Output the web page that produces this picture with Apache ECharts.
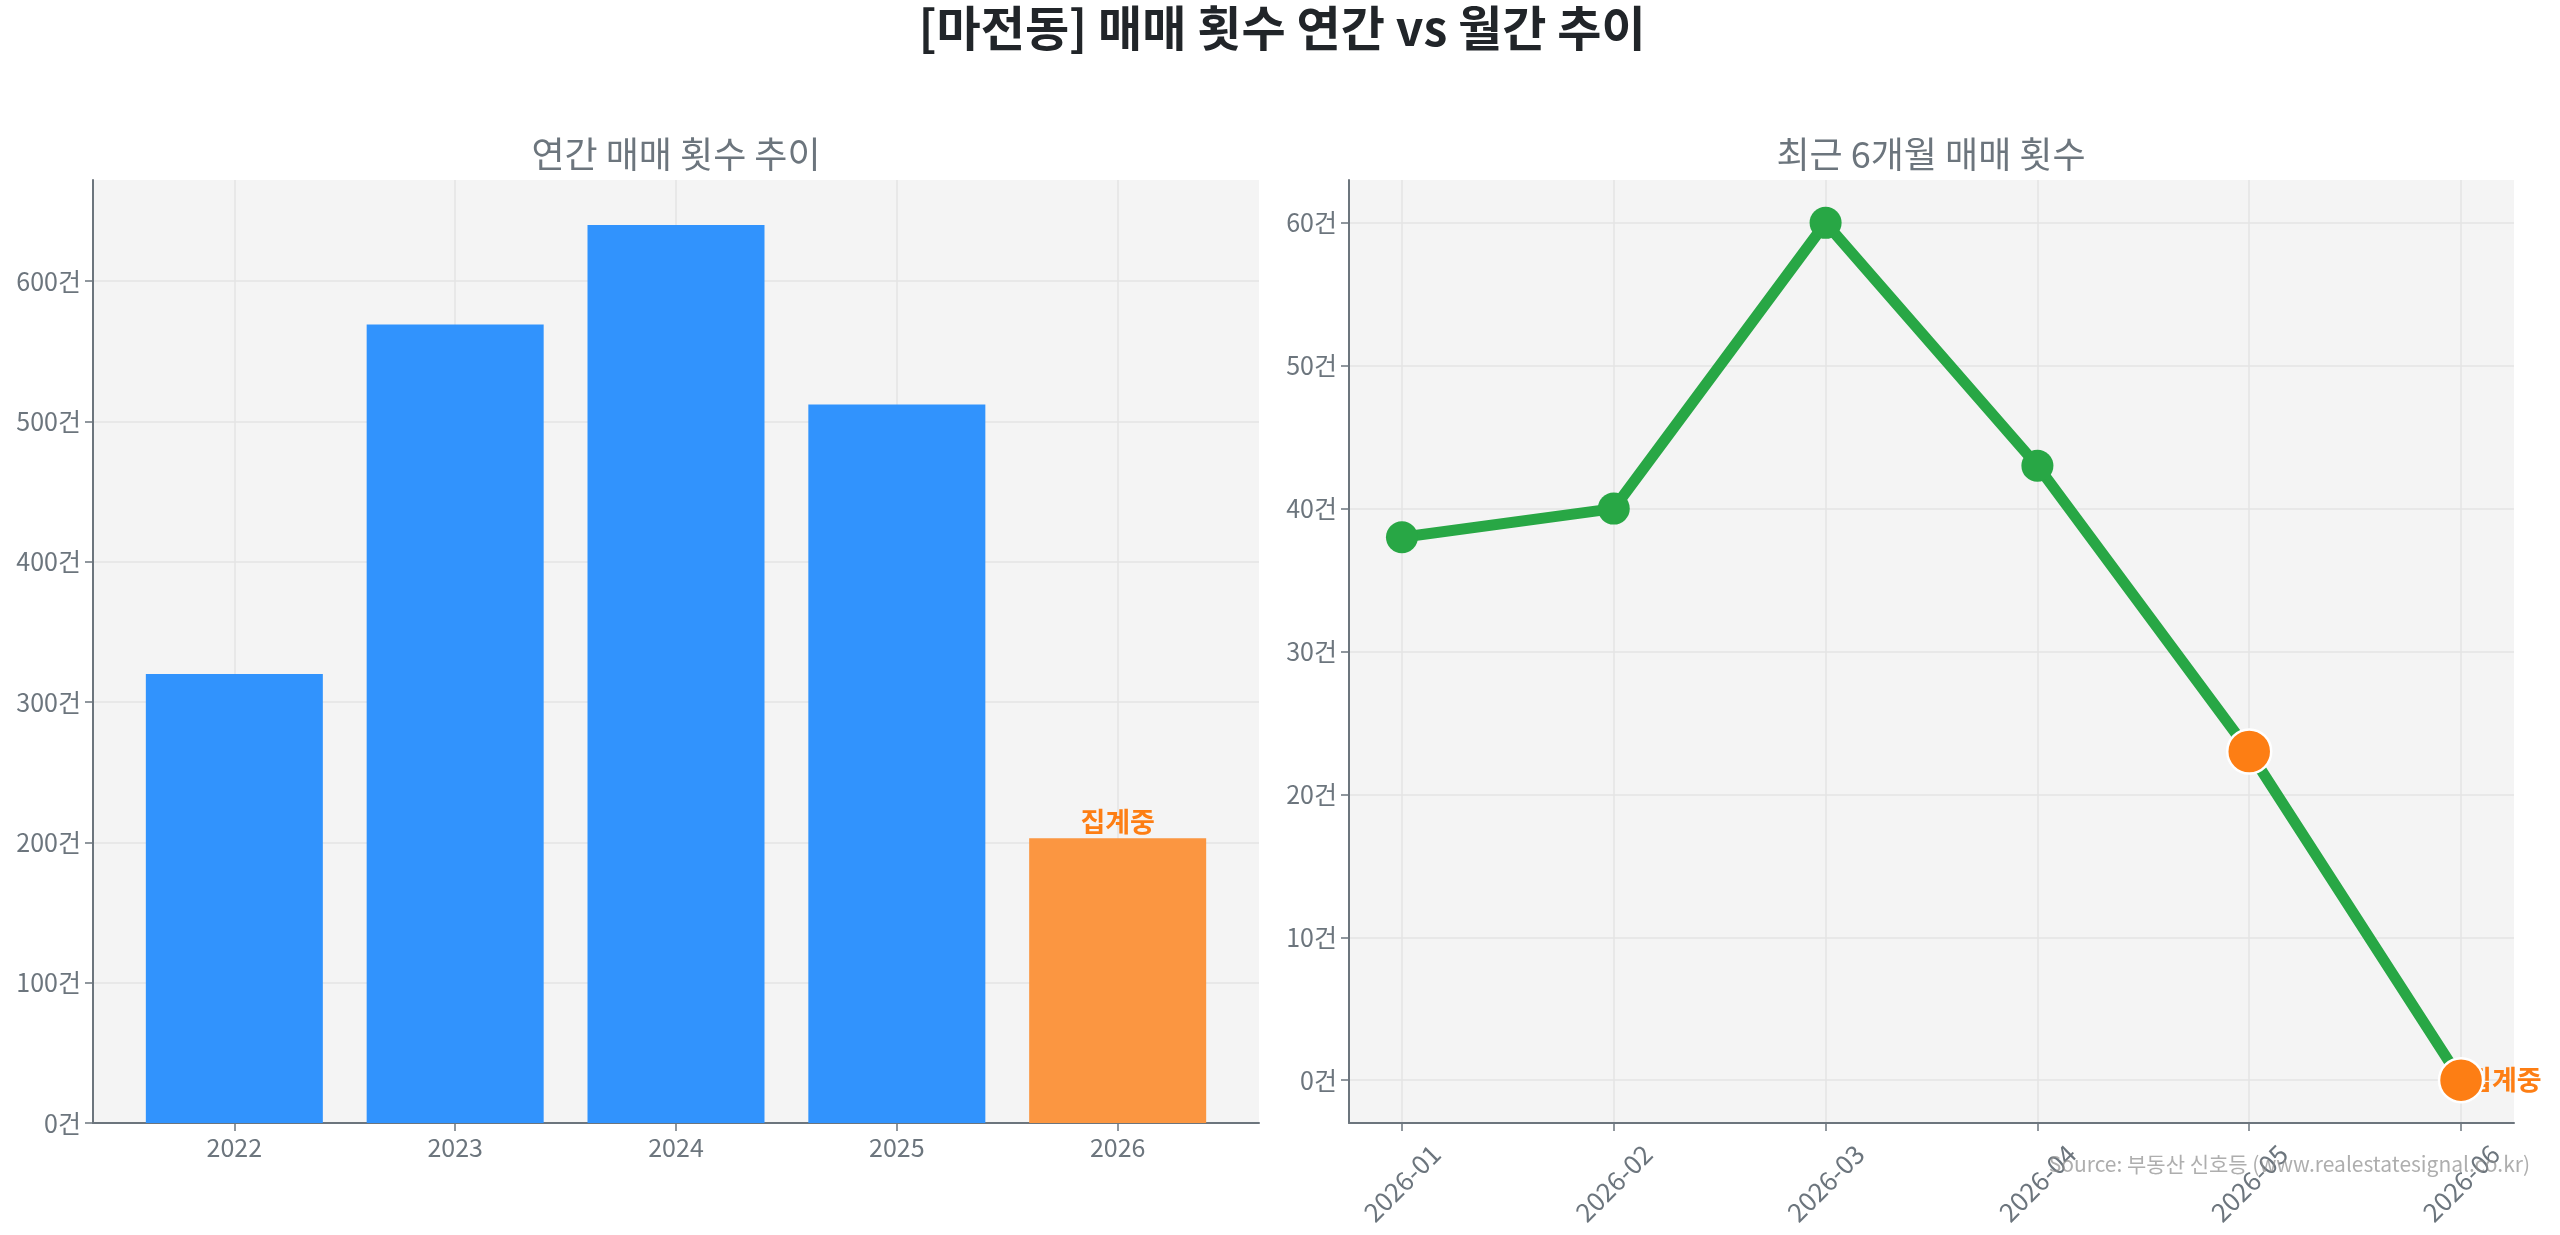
<!DOCTYPE html>
<html>
<head>
<meta charset="utf-8">
<title>마전동 매매 횟수</title>
<script src="https://cdn.jsdelivr.net/npm/echarts@6/dist/echarts.min.js"></script>
<style>
html, body { margin: 0; padding: 0; background: #fff; }
#chart { width: 2560px; height: 1235px; }
</style>
</head>
<body>
<div id="chart"></div>
<script>
// 연간 매매 횟수
const years = ['2022', '2023', '2024', '2025', '2026'];
const yearCounts = [320, 569, 640, 512, 203];
const yearPartial = [false, false, false, false, true]; // 집계중
const yearTicks = [0, 100, 200, 300, 400, 500, 600];

// 최근 6개월 매매 횟수
const months = ['2026-01', '2026-02', '2026-03', '2026-04', '2026-05', '2026-06'];
const monthCounts = [38, 40, 60, 43, 23, 0];
const monthPartial = [false, false, false, false, true, true];
const monthTicks = [0, 10, 20, 30, 40, 50, 60];

const FONT = 'Noto Sans CJK KR';
const GREY = '#6c757d';
const BLUE = '#3193fd';
const ORANGE = '#fd7e14';
const ORANGE_BAR = '#fb9641';
const GREEN = '#28a745';

let chart = echarts.init(document.getElementById('chart'));

// 공통 축 스타일
function axisBase(ticks, fmt) {
	return {
		axisLine: { show: true, onZero: false, lineStyle: { color: GREY, width: 2 } },
		axisTick: { show: true, customValues: ticks, length: 8, lineStyle: { color: GREY, width: 1.5 } },
		axisLabel: { customValues: ticks, formatter: fmt, color: GREY, fontSize: 25, fontFamily: FONT, margin: 12 },
		splitLine: { show: true, lineStyle: { color: '#e4e4e4', width: 1.5 } }
	};
}

const idx = arr => arr.map((d, i) => i);

let xLeft = Object.assign({ type: 'value', gridIndex: 0, min: -0.64, max: 4.64 },
	axisBase(idx(years), v => years[Math.round(v)]));

let xRight = Object.assign({ type: 'value', gridIndex: 1, min: -0.25, max: 5.25 },
	axisBase(idx(months), v => months[Math.round(v)]));
xRight.axisLabel = Object.assign(xRight.axisLabel, { rotate: 45, align: 'center', verticalAlign: 'middle', margin: 60, fontSize: 26 });

let yLeft = Object.assign({ type: 'value', gridIndex: 0, min: 0, max: 672 },
	axisBase(yearTicks, v => v + '건'));
let yRight = Object.assign({ type: 'value', gridIndex: 1, min: -3, max: 63 },
	axisBase(monthTicks, v => v + '건'));

const lastMonth = months.length - 1;

chart.setOption({
	backgroundColor: '#fff',
	animation: false,
	title: [
		{
			text: '[마전동] 매매 횟수 연간 vs 월간 추이',
			left: 1282, top: 4, textAlign: 'center', padding: 0,
			textStyle: { fontFamily: FONT, fontSize: 48, fontWeight: 'bold', color: '#212529' }
		},
		{
			text: '연간 매매 횟수 추이',
			left: 676, top: 136, textAlign: 'center', padding: 0,
			textStyle: { fontFamily: FONT, fontSize: 36, fontWeight: 'normal', color: GREY }
		},
		{
			text: '최근 6개월 매매 횟수',
			left: 1931, top: 136, textAlign: 'center', padding: 0,
			textStyle: { fontFamily: FONT, fontSize: 36, fontWeight: 'normal', color: GREY }
		}
	],
	grid: [
		{ left: 93, right: 1301, top: 180, bottom: 112, show: true, backgroundColor: '#f4f4f4', borderWidth: 0 },
		{ left: 1349, right: 46, top: 180, bottom: 112, show: true, backgroundColor: '#f4f4f4', borderWidth: 0 }
	],
	xAxis: [xLeft, xRight],
	yAxis: [yLeft, yRight],
	series: [
		{
			name: '연간',
			type: 'bar',
			xAxisIndex: 0,
			yAxisIndex: 0,
			barWidth: 177,
			data: yearCounts.map((v, i) => ({ value: [i, v], label: { show: yearPartial[i] } })),
			itemStyle: {
				color: p => (yearPartial[p.dataIndex] ? ORANGE_BAR : BLUE)
			},
			label: {
				position: 'top',
				distance: 3,
				formatter: '집계중',
				color: ORANGE,
				fontFamily: FONT,
				fontSize: 27,
				fontWeight: 'bold'
			},
			z: 2
		},
		{
			name: '월간',
			type: 'line',
			xAxisIndex: 1,
			yAxisIndex: 1,
			data: monthCounts.map((v, i) => [i, v]),
			symbol: 'circle',
			symbolSize: 32,
			lineStyle: { color: GREEN, width: 11 },
			itemStyle: { color: GREEN },
			z: 2
		},
		{
			// 집계중 라벨 (마커 아래)
			name: '라벨',
			type: 'scatter',
			xAxisIndex: 1,
			yAxisIndex: 1,
			data: [[lastMonth, monthCounts[lastMonth]]],
			symbolSize: 2,
			itemStyle: { color: 'rgba(0,0,0,0)', opacity: 1 },
			label: {
				show: true,
				position: 'right',
				distance: 5,
				formatter: '집계중',
				color: ORANGE,
				fontFamily: FONT,
				fontSize: 27,
				fontWeight: 'bold'
			},
			z: 3
		},
		{
			name: '집계중',
			type: 'scatter',
			xAxisIndex: 1,
			yAxisIndex: 1,
			data: monthCounts.map((v, i) => [i, v]).filter((d, i) => monthPartial[i]),
			symbolSize: 44,
			itemStyle: { color: ORANGE, opacity: 1, borderColor: '#fff', borderWidth: 2.5 },
			z: 4
		}
	],
	graphic: [
		{
			type: 'text',
			right: 30,
			top: 1154,
			z: 100,
			style: {
				text: 'Source: 부동산 신호등 (www.realestatesignal.co.kr)',
				fontFamily: FONT,
				fontSize: 21,
				fill: 'rgba(140,140,140,0.7)'
			}
		}
	]
});
</script>
</body>
</html>
